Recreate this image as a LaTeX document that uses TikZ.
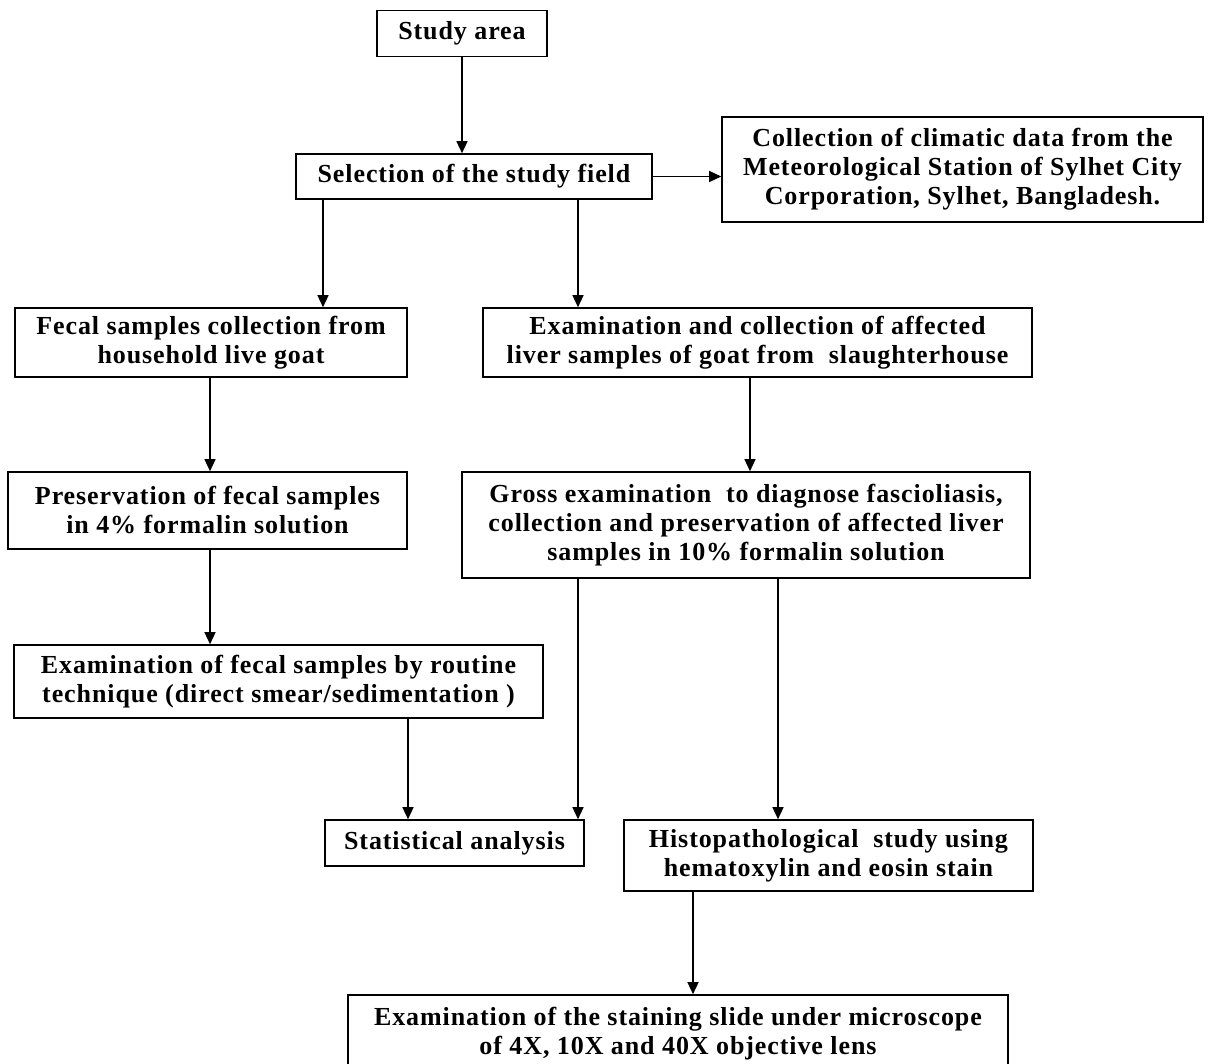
\documentclass[tikz,border=0pt]{standalone}
\usepackage{fontspec}
\setmainfont{Liberation Serif}[LetterSpace=3.5]
\usetikzlibrary{arrows.meta}
\begin{document}
\begin{tikzpicture}[x=1pt,y=-1pt,
  txt/.style={align=center, inner sep=0pt, font=\fontsize{26}{29}\selectfont\bfseries},
  box/.style={txt, draw, line width=1.6pt},
  arr/.style={line width=1.4pt, -{Triangle[length=12pt,width=11pt]}}]
\useasboundingbox (0,0) rectangle (1210,1064);
\fill[white] (0,0) rectangle (1210,1064);
\begin{scope}
\clip (0,0) rectangle (1210,1064);
\node[box, minimum width=170pt, minimum height=46pt] (study) at (462,33.5) {Study area};
\node[box, minimum width=356pt, minimum height=45pt] (sel) at (474,176.5) {Selection of the study field};
\node[box, minimum width=481pt, minimum height=105pt] (clim) at (962.5,169.5) {Collection of climatic data from the\\Meteorological Station of Sylhet City\\Corporation, Sylhet, Bangladesh.};
\node[box, minimum width=392pt, minimum height=69pt] (fecal) at (211,342.5) {Fecal samples collection from\\household live goat};
\node[box, minimum width=549pt, minimum height=69pt] (liver) at (757.5,342.5) {Examination and collection of affected\\liver samples of goat from \ slaughterhouse};
\node[box, minimum width=399pt, minimum height=77pt] (pres) at (207.5,510.5) {Preservation of fecal samples\\in 4\% formalin solution};
\node[box, minimum width=568pt, minimum height=106pt] (gross) at (746,525) {Gross examination \ to diagnose fascioliasis,\\collection and preservation of affected liver\\samples in 10\% formalin solution};
\node[box, minimum width=529pt, minimum height=73pt] (exf) at (278.5,681.5) {Examination of fecal samples by routine\\technique (direct smear/sedimentation )};
\node[box, minimum width=259pt, minimum height=46pt] (stat) at (454.5,843) {Statistical analysis};
\node[box, minimum width=409pt, minimum height=71pt] (histo) at (828.5,855.5) {Histopathological \ study using\\hematoxylin and eosin stain};
\node[box, minimum width=660pt, minimum height=90pt] (stain) at (678,1040) {};
\node[txt] (staintxt) at (678,1034) {Examination of the staining slide under microscope\\of 4X, 10X and 40X objective lens};
\end{scope}
\coordinate (xa) at (323,0);
\coordinate (xb) at (578,0);
\coordinate (xc) at (210,0);
\coordinate (xd) at (750,0);
\coordinate (xe) at (408,0);
\coordinate (xf) at (578,0);
\coordinate (xg) at (778,0);
\coordinate (xh) at (693,0);
\draw[arr] (study) -- (study |- sel.north);
\draw[arr] (sel.east) -- (clim.west |- sel.east);
\draw[arr] (sel.south -| xa) -- (fecal.north -| xa);
\draw[arr] (sel.south -| xb) -- (liver.north -| xb);
\draw[arr] (fecal.south -| xc) -- (pres.north -| xc);
\draw[arr] (liver.south -| xd) -- (gross.north -| xd);
\draw[arr] (pres.south -| xc) -- (exf.north -| xc);
\draw[arr] (exf.south -| xe) -- (stat.north -| xe);
\draw[arr] (gross.south -| xf) -- (stat.north -| xf);
\draw[arr] (gross.south -| xg) -- (histo.north -| xg);
\draw[arr] (histo.south -| xh) -- (stain.north -| xh);
\end{tikzpicture}
\end{document}
